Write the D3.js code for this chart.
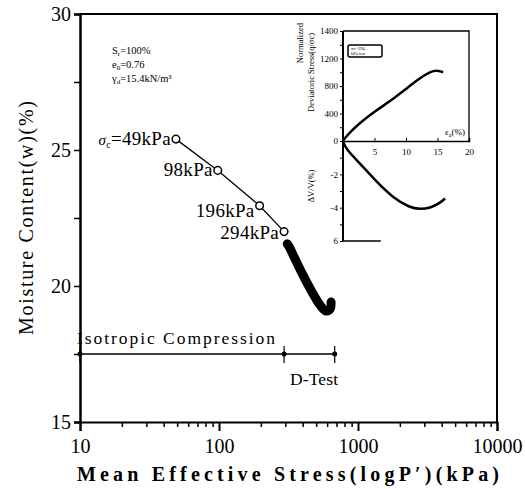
<!DOCTYPE html>
<html lang="en">
<head>
<meta charset="UTF-8">
<title>Moisture content vs mean effective stress</title>
<style>
    html, body { margin: 0; padding: 0; background: #fff; }
    svg { display: block; }
    svg text { font-family: "Liberation Serif", "DejaVu Serif", serif; }
</style>
</head>
<body>
<div id="stage"></div>
<script src="https://cdn.jsdelivr.net/npm/d3@7"></script>
<script>
// isotropic compression points (kPa, w %)
const isoStress = [49, 98, 196, 294];
const isoMoisture = [25.4, 24.25, 22.95, 22.0];
const isoLabels = ['=49kPa', '98kPa', '196kPa', '294kPa'];

// D-test path (kPa, w %)
const dStress = [310, 319, 352, 402, 467, 533, 589, 630, 640];
const dMoisture = [21.55, 21.45, 21.0, 20.4, 19.78, 19.3, 19.08, 19.15, 19.41];

// extent bars at w = 17.5
const barStress = [10, 294, 680];

// axis ticks
const xMajor = [10, 100, 1000, 10000];
const yMajor = [15, 20, 25, 30];
const yMinor = [17.5, 22.5, 27.5];

// inset: axial strain vs normalized deviatoric stress and volumetric strain
const insetStrainQ = [0, 0.6, 2.7, 5.2, 7.9, 10, 11.7, 13.2, 14.4, 15.2, 15.9];
const insetQ = [0, 80, 267, 440, 607, 755, 880, 975, 1025, 1020, 1000];
const insetStrainV = [0, 0.3, 0.8, 2.7, 5.4, 7.9, 10.6, 12.2, 13.8, 15.4, 16.2];
const insetV = [0, -0.3, -0.6, -1.35, -2.48, -3.39, -4.0, -4.1, -4.03, -3.72, -3.45];
const insetX = [5, 10, 15, 20];
const insetQTicks = [0, 400, 800, 1200, 1600];
const insetQLabels = ['0', '400', '800', '1200', '1400'];
const insetVTicks = [-2, -4, -6];
const insetVLabels = ['-2', '-4', '6'];

const W = 525, H = 489;
const svg = d3.select('#stage').append('svg')
    .attr('width', W).attr('height', H);
svg.append('rect').attr('width', W).attr('height', H).attr('fill', '#fff');

const x = d3.scaleLog().domain([10, 10000]).range([80, 497]);
const y = d3.scaleLinear().domain([15, 30]).range([422, 14]);

// frame
svg.append('path')
    .attr('d', `M${x(10)},${y(30)}H${x(10000)}V${y(15)}`)
    .attr('fill', 'none').attr('stroke', '#000').attr('stroke-width', 2);

// bottom axis
const minorX = [];
[10, 100, 1000].forEach(d => { for (let k = 2; k <= 9; k++) minorX.push(d * k); });
svg.append('g').attr('transform', `translate(0,${y(15)})`)
    .call(d3.axisBottom(x).tickValues(minorX).tickSize(5).tickFormat(''))
    .call(g => g.select('.domain').remove())
    .selectAll('line').attr('stroke-width', 1.5);
const gx = svg.append('g').attr('transform', `translate(0,${y(15)})`)
    .call(d3.axisBottom(x).tickValues(xMajor).tickSize(9).tickPadding(8).tickFormat(d3.format('d')))
    .attr('font-family', null);
gx.select('.domain').attr('stroke-width', 2);
gx.selectAll('line').attr('stroke-width', 2);
gx.selectAll('text').attr('font-size', 20).attr('fill', '#000');

// left axis
svg.append('g').attr('transform', `translate(${x(10)},0)`)
    .call(d3.axisLeft(y).tickValues(yMinor).tickSize(6).tickFormat(''))
    .call(g => g.select('.domain').remove())
    .selectAll('line').attr('stroke-width', 1.5);
const gy = svg.append('g').attr('transform', `translate(${x(10)},0)`)
    .call(d3.axisLeft(y).tickValues(yMajor).tickSize(6).tickPadding(3))
    .attr('font-family', null);
gy.select('.domain').attr('stroke-width', 2.5);
gy.selectAll('line').attr('stroke-width', 1.5);
gy.selectAll('text').attr('font-size', 20).attr('fill', '#000');

// axis titles
svg.append('text')
    .attr('transform', `translate(33,218) rotate(-90)`)
    .attr('text-anchor', 'middle').attr('font-size', 20)
    .attr('textLength', 234).attr('lengthAdjust', 'spacing')
    .text('Moisture Content(w)(%)');
svg.append('text')
    .attr('x', 288).attr('y', 481)
    .attr('text-anchor', 'middle').attr('font-size', 20).attr('font-weight', 'bold')
    .attr('textLength', 422).attr('lengthAdjust', 'spacing')
    .text('Mean Effective Stress(logP′)(kPa)');

// soil properties
const props = svg.append('g').attr('font-size', 10.5);
const t1 = props.append('text').attr('x', 112).attr('y', 54);
t1.append('tspan').text('S');
t1.append('tspan').attr('font-size', 7).attr('dy', 2).text('r');
t1.append('tspan').attr('dy', -2).text('=100%');
const t2 = props.append('text').attr('x', 112).attr('y', 68);
t2.append('tspan').text('e');
t2.append('tspan').attr('font-size', 7).attr('dy', 2).text('0');
t2.append('tspan').attr('dy', -2).text('=0.76');
const t3 = props.append('text').attr('x', 112).attr('y', 82);
t3.append('tspan').text('γ');
t3.append('tspan').attr('font-size', 7).attr('dy', 2).text('d');
t3.append('tspan').attr('dy', -2).text('=15.4kN/m³');

// isotropic compression line and points
const isoData = isoStress.map((p, i) => ({ p, w: isoMoisture[i], label: isoLabels[i] }));
svg.append('path').datum(isoData)
    .attr('d', d3.line().x(d => x(d.p)).y(d => y(d.w)))
    .attr('fill', 'none').attr('stroke', '#000').attr('stroke-width', 1.3);
svg.selectAll('.iso').data(isoData).enter().append('circle')
    .attr('class', 'iso')
    .attr('cx', d => x(d.p)).attr('cy', d => y(d.w)).attr('r', 3.8)
    .attr('fill', '#fff').attr('stroke', '#000').attr('stroke-width', 1.5);
const labelDy = [6, 6, 11, 7];
const isoText = svg.selectAll('.isoLabel').data(isoData).enter().append('text')
    .attr('class', 'isoLabel')
    .attr('x', d => x(d.p) - 5).attr('y', (d, i) => y(d.w) + labelDy[i])
    .attr('text-anchor', 'end').attr('font-size', 19).attr('letter-spacing', 0.3);
isoText.each(function (d, i) {
    const t = d3.select(this);
    if (i === 0) {
        t.append('tspan').attr('font-style', 'italic').attr('font-size', 15).text('σ');
        t.append('tspan').attr('font-size', 10).attr('dy', 3).text('c');
        t.append('tspan').attr('dy', -3).text(d.label);
    } else {
        t.text(d.label);
    }
});

// D-test path
const dData = dStress.map((p, i) => ({ p, w: dMoisture[i] }));
svg.append('path').datum(dData)
    .attr('d', d3.line().x(d => x(d.p)).y(d => y(d.w)).curve(d3.curveCatmullRom))
    .attr('fill', 'none').attr('stroke', '#000').attr('stroke-width', 9)
    .attr('stroke-linecap', 'round').attr('stroke-linejoin', 'round');

// range bars
const yb = y(17.5);
svg.append('line')
    .attr('x1', x(barStress[0])).attr('x2', x(barStress[2]))
    .attr('y1', yb).attr('y2', yb)
    .attr('stroke', '#000').attr('stroke-width', 1.3);
svg.selectAll('.bar').data(barStress).enter().append('line')
    .attr('x1', d => x(d)).attr('x2', d => x(d))
    .attr('y1', yb - 8).attr('y2', yb + 9)
    .attr('stroke', '#000').attr('stroke-width', 1.2);
svg.selectAll('.barDot').data(barStress).enter().append('circle')
    .attr('cx', d => x(d)).attr('cy', yb).attr('r', 2.5).attr('fill', '#000');
svg.append('text').attr('x', 77).attr('y', 344).attr('font-size', 17.5)
    .attr('textLength', 198).attr('lengthAdjust', 'spacing')
    .text('Isotropic Compression');
svg.append('text').attr('x', 290).attr('y', 385).attr('font-size', 17.5)
    .attr('textLength', 48).attr('lengthAdjust', 'spacing')
    .text('D-Test');

// ---- inset ----
const ix = d3.scaleLinear().domain([0, 20]).range([343, 469]);
const iq = d3.scaleLinear().domain([0, 1600]).range([141, 31]);
const iv = d3.scaleLinear().domain([0, -6]).range([141, 241]);
const inset = svg.append('g').attr('font-size', 9);

inset.append('path')
    .attr('d', `M${ix(0)},${iq(1600)}H${ix(20)}V${iq(0)}`)
    .attr('fill', 'none').attr('stroke', '#000').attr('stroke-width', 1.3);
inset.append('line')
    .attr('x1', ix(0)).attr('x2', ix(0)).attr('y1', iq(1600)).attr('y2', iv(-6))
    .attr('stroke', '#000').attr('stroke-width', 2);
inset.append('line')
    .attr('x1', ix(0)).attr('x2', ix(6)).attr('y1', iv(-6)).attr('y2', iv(-6))
    .attr('stroke', '#000').attr('stroke-width', 1.5);

const gix = inset.append('g').attr('transform', `translate(0,${iq(0)})`)
    .call(d3.axisBottom(ix).tickValues(insetX).tickSize(-3).tickPadding(8))
    .attr('font-family', null);
gix.select('.domain').attr('stroke-width', 1.5);
gix.selectAll('text').attr('font-size', 9).attr('fill', '#000');

const qAxis = inset.append('g').attr('transform', `translate(${ix(0)},0)`)
    .call(d3.axisLeft(iq).tickValues(insetQTicks).tickSize(3).tickPadding(2)
        .tickFormat((d, i) => insetQLabels[i]))
    .attr('font-family', null);
qAxis.select('.domain').remove();
qAxis.selectAll('text').attr('font-size', 9).attr('fill', '#000');
inset.append('g').attr('transform', `translate(${ix(0)},0)`)
    .call(d3.axisLeft(iq).tickValues([200, 600, 1000, 1400]).tickSize(3).tickFormat(''))
    .call(g => g.select('.domain').remove());

const vAxis = inset.append('g').attr('transform', `translate(${ix(0)},0)`)
    .call(d3.axisLeft(iv).tickValues(insetVTicks).tickSize(3).tickPadding(2)
        .tickFormat((d, i) => insetVLabels[i]))
    .attr('font-family', null);
vAxis.select('.domain').remove();
vAxis.selectAll('text').attr('font-size', 9).attr('fill', '#000');
inset.append('g').attr('transform', `translate(${ix(0)},0)`)
    .call(d3.axisLeft(iv).tickValues([-1, -3, -5]).tickSize(3).tickFormat(''))
    .call(g => g.select('.domain').remove());

inset.append('path')
    .datum(insetStrainQ.map((e, i) => [e, insetQ[i]]))
    .attr('d', d3.line().x(d => ix(d[0])).y(d => iq(d[1])).curve(d3.curveBasis))
    .attr('fill', 'none').attr('stroke', '#000').attr('stroke-width', 2.5);
inset.append('path')
    .datum(insetStrainV.map((e, i) => [e, insetV[i]]))
    .attr('d', d3.line().x(d => ix(d[0])).y(d => iv(d[1])).curve(d3.curveBasis))
    .attr('fill', 'none').attr('stroke', '#000').attr('stroke-width', 2.5);

const ea = inset.append('text').attr('x', 445).attr('y', 135).attr('font-size', 9);
ea.append('tspan').text('ε');
ea.append('tspan').attr('font-size', 6).attr('dy', 2).text('a');
ea.append('tspan').attr('dy', -2).text('(%)');

inset.append('text')
    .attr('transform', 'translate(303,23) rotate(-90)')
    .attr('text-anchor', 'end').attr('font-size', 8.5).text('Normalized');
inset.append('text')
    .attr('transform', 'translate(314,33) rotate(-90)')
    .attr('text-anchor', 'end').attr('font-size', 8.5).text('Deviatoric Stress(q/σc)');
inset.append('text')
    .attr('transform', 'translate(314,186) rotate(-90)')
    .attr('text-anchor', 'middle').attr('font-size', 8.5).text('ΔV/V(%)');

// tiny legend box
inset.append('rect').attr('x', 348).attr('y', 45).attr('width', 34).attr('height', 12)
    .attr('rx', 2).attr('fill', '#fff').attr('stroke', '#000').attr('stroke-width', 1.5);
inset.append('text').attr('x', 351).attr('y', 50).attr('font-size', 4.5).text('σc=294');
inset.append('text').attr('x', 351).attr('y', 55).attr('font-size', 4.5).text('kPa test');
</script>
</body>
</html>
